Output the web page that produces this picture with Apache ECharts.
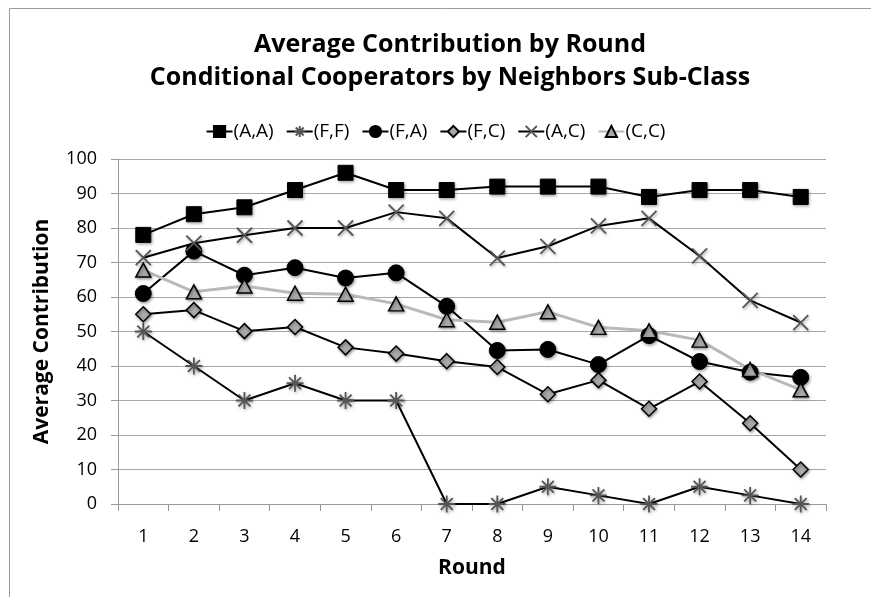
<!DOCTYPE html>
<html>
<head>
<meta charset="utf-8">
<script src="https://cdn.jsdelivr.net/npm/echarts@6/dist/echarts.min.js"></script>
<style>
  html, body { margin: 0; padding: 0; background: #fff; }
  #chart { width: 871px; height: 597px; }
</style>
</head>
<body>
<div id="chart"></div>
<script>
// Rounds of the game
const rounds = ['1', '2', '3', '4', '5', '6', '7', '8', '9', '10', '11', '12', '13', '14'];

// Average contribution per neighbour sub-class
const seriesNames = ['(A,A)', '(F,F)', '(F,A)', '(F,C)', '(A,C)', '(C,C)'];
const valuesAA = [78, 84, 86, 91, 96, 91, 91, 92, 92, 92, 89, 91, 91, 89];
const valuesFF = [50, 40, 30, 35, 30, 30, 0, 0, 5, 2.5, 0, 5, 2.5, 0];
const valuesFA = [61, 73.3, 66.3, 68.5, 65.5, 67, 57.3, 44.5, 44.8, 40.4, 48.8, 41.3, 38.2, 36.7];
const valuesFC = [55, 56.2, 50.1, 51.3, 45.4, 43.6, 41.4, 39.7, 31.8, 35.9, 27.6, 35.5, 23.4, 10];
const valuesAC = [71.4, 75.6, 77.9, 80, 80, 84.6, 82.8, 71.3, 74.7, 80.6, 82.8, 71.9, 59, 52.6];
const valuesCC = [67.8, 61.5, 63.2, 61.1, 60.8, 58, 53.4, 52.7, 55.7, 51.2, 50.2, 47.5, 39, 33.1];

const yMin = 0, yMax = 100, yStep = 10;

const FONT = '"Open Sans", Lato, sans-serif';

// Stroke-only marker shapes
const asteriskPath = 'path://M0,5 L10,5 M5,0 L5,10 M1.5,1.5 L8.5,8.5 M8.5,1.5 L1.5,8.5';
const crossPath = 'path://M0,0 L10,10 M10,0 L0,10';

const shadow = { shadowBlur: 3, shadowColor: 'rgba(0,0,0,0.35)', shadowOffsetX: 1, shadowOffsetY: 1.5 };

function makeSeries(name, data, opt) {
  return Object.assign({
    name: name,
    type: 'line',
    data: data,
    symbolKeepAspect: true,
    lineStyle: { color: '#000', width: 2 },
    emphasis: { disabled: true },
    animation: false
  }, opt);
}

const series = [
  makeSeries(seriesNames[0], valuesAA, {
    symbol: 'rect', symbolSize: 15,
    itemStyle: Object.assign({ color: '#000', borderColor: '#000', borderWidth: 1 }, shadow)
  }),
  makeSeries(seriesNames[1], valuesFF, {
    symbol: asteriskPath, symbolSize: 17,
    itemStyle: Object.assign({ color: 'none', borderColor: '#555', borderWidth: 1.8 }, shadow)
  }),
  makeSeries(seriesNames[2], valuesFA, {
    symbol: 'circle', symbolSize: 16,
    itemStyle: Object.assign({ color: '#000', borderColor: '#000', borderWidth: 1 }, shadow)
  }),
  makeSeries(seriesNames[3], valuesFC, {
    symbol: 'diamond', symbolSize: [15, 15],
    itemStyle: Object.assign({ color: '#a9a9a9', borderColor: '#000', borderWidth: 1.5 }, shadow)
  }),
  makeSeries(seriesNames[4], valuesAC, {
    symbol: crossPath, symbolSize: 15,
    itemStyle: Object.assign({ color: 'none', borderColor: '#555', borderWidth: 1.8 }, shadow)
  }),
  makeSeries(seriesNames[5], valuesCC, {
    symbol: 'triangle', symbolSize: [15, 14],
    lineStyle: { color: '#b9b9b9', width: 3 },
    itemStyle: Object.assign({ color: '#a9a9a9', borderColor: '#000', borderWidth: 1.5 }, shadow)
  })
];

const chart = echarts.init(document.getElementById('chart'), null, { renderer: 'canvas' });

chart.setOption({
  backgroundColor: '#fff',
  animation: false,
  graphic: [{
    type: 'rect',
    left: 7, top: 6,
    shape: { width: 900, height: 700 },
    style: { fill: 'none', stroke: '#9a9a9a', lineWidth: 1 },
    silent: true
  }],
  title: {
    text: 'Average Contribution by Round\nConditional Cooperators by Neighbors Sub-Class',
    left: 445, textAlign: 'center',
    top: 23,
    textStyle: { fontFamily: FONT, fontWeight: 'bold', fontSize: 25, lineHeight: 33, color: '#000' }
  },
  legend: {
    top: 117, left: 'center',
    data: seriesNames,
    itemWidth: 26, itemHeight: 14, itemGap: 12,
    textStyle: { fontFamily: FONT, fontSize: 19, color: '#000', padding: [0, 0, 0, -4] }
  },
  grid: { left: 118, right: 45, top: 159, bottom: 93, containLabel: false },
  xAxis: {
    type: 'category',
    data: rounds,
    boundaryGap: true,
    name: 'Round',
    nameLocation: 'middle',
    nameGap: 54,
    nameTextStyle: { fontFamily: FONT, fontWeight: 'bold', fontSize: 21, color: '#000' },
    axisLine: { lineStyle: { color: '#9a9a9a', width: 1 } },
    axisTick: { show: true, length: 7, lineStyle: { color: '#9a9a9a' } },
    axisLabel: { fontFamily: FONT, fontSize: 18, color: '#000', margin: 24 },
    splitLine: { show: false }
  },
  yAxis: {
    type: 'value',
    min: yMin, max: yMax, interval: yStep,
    name: 'Average Contribution',
    nameLocation: 'middle',
    nameGap: 65,
    nameTextStyle: { fontFamily: FONT, fontWeight: 'bold', fontSize: 21, color: '#000' },
    axisLine: { show: true, lineStyle: { color: '#9a9a9a', width: 1 } },
    axisTick: { show: true, length: 7, lineStyle: { color: '#9a9a9a' } },
    axisLabel: { fontFamily: FONT, fontSize: 18, color: '#000', margin: 21 },
    splitLine: { show: true, lineStyle: { color: '#a6a6a6', width: 1 } }
  },
  series: series
});
</script>
</body>
</html>
